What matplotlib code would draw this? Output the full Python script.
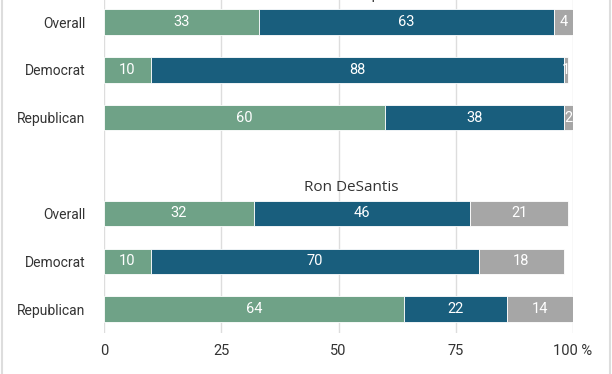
import matplotlib
matplotlib.use("Agg")
import matplotlib.pyplot as plt
from matplotlib.lines import Line2D

groups = ["Donald Trump", "Ron DeSantis"]
categories = ["Overall", "Democrat", "Republican"]
trump_fav = [33, 10, 60]
trump_unfav = [63, 88, 38]
trump_dk = [4, 1, 2]
desantis_fav = [32, 10, 64]
desantis_unfav = [46, 70, 22]
desantis_dk = [21, 18, 14]
xticks = [0, 25, 50, 75, 100]
xtick_labels = ["0", "25", "50", "75", "100 %"]

colors = ["#6fa287", "#195e7d", "#a6a6a6"]

fig = plt.figure(figsize=(6.12, 3.74), dpi=100)
ax = fig.add_axes([104/612, 1-333/374, (573-104)/612, 333/374])

positions = [[0, 1, 2], [4, 5, 6]]
series = [(trump_fav, trump_unfav, trump_dk), (desantis_fav, desantis_unfav, desantis_dk)]
h = 0.53
for pos, (fav, unfav, dk) in zip(positions, series):
    left = [0]*3
    for vals, c in zip((fav, unfav, dk), colors):
        bars = ax.barh(pos, vals, left=left, height=h, color=c, edgecolor="white", linewidth=0.6, zorder=3)
        for b, v in zip(bars, vals):
            ax.text(b.get_x() + b.get_width()/2, b.get_y() + b.get_height()/2, str(v),
                    ha="center", va="center", color="white", fontsize=10.5,
                    family="Roboto", zorder=4, clip_on=False)
        left = [l + v for l, v in zip(left, vals)]

ax.text(48, -0.57, groups[0], ha="center", va="center", fontsize=11, family="Open Sans", color="#333333", clip_on=False)
ax.text(52.7, 3.45, groups[1], ha="center", va="center", fontsize=11, family="Open Sans", color="#333333", clip_on=False)

ax.set_xlim(0, 100)
ax.set_ylim(6.5, -0.46)
ax.set_yticks([0, 1, 2, 4, 5, 6])
ax.set_yticklabels(categories + categories, family="Roboto", fontsize=10, color="#333333")
ax.set_xticks(xticks)
ax.set_xticklabels(xtick_labels, family="Roboto", fontsize=10.5, color="#333333")
ax.tick_params(axis="both", length=0)
ax.tick_params(axis="x", pad=8)
ax.tick_params(axis="y", pad=13.5)
ax.grid(axis="x", color="#dddddd", linewidth=1, zorder=0)
ax.set_axisbelow(True)
for s in ax.spines.values():
    s.set_visible(False)

fig.add_artist(Line2D([1.5/612, 1.5/612], [0, 1], color="#dddddd", linewidth=1.5))
fig.add_artist(Line2D([610/612, 610/612], [0, 1], color="#dddddd", linewidth=1.5))

fig.savefig("out.png", dpi=100)
